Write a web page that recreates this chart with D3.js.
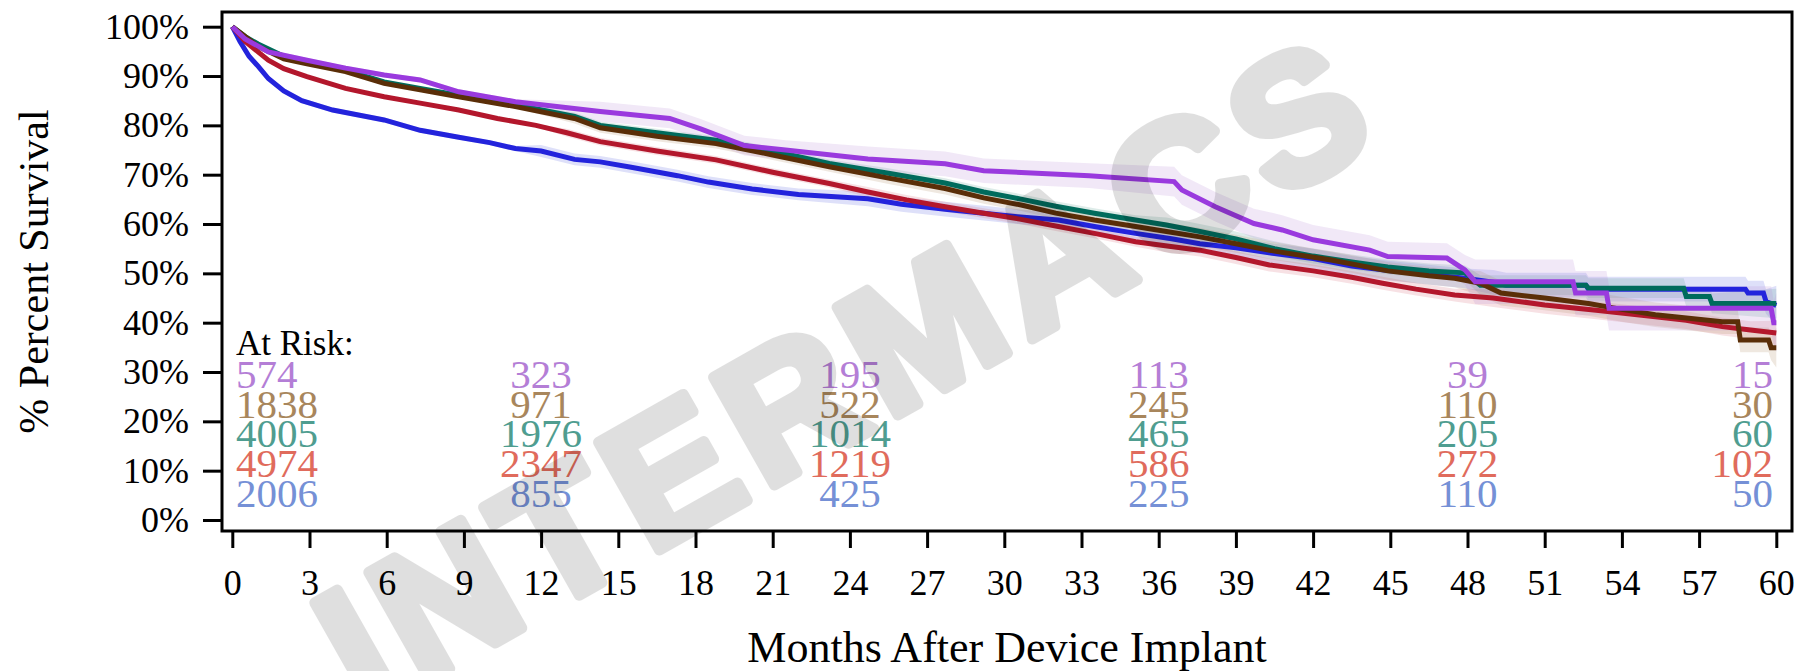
<!DOCTYPE html>
<meta charset="utf-8">
<head>
    <title>Percent Survival by Months After Device Implant</title>
</head>

<style>
    body { margin: 0; background: #fff; }
    svg text { font-family: "Liberation Serif", "Times New Roman", serif; }
    .axis path { display: none; }
    .axis line { stroke: #000; stroke-width: 3px; }
    .axis text { font-size: 36px; fill: #000; }
    .frame { fill: none; stroke: #000; stroke-width: 3px; }
</style>

<script src="https://d3js.org/d3.v7.min.js"></script>

<div id="my_viz"></div>

<script>

    // survival curves (months, % surviving)
    var purpleT = [0, 0.5, 1.4, 2.9, 4.4, 5.9, 7.3, 8.8, 11, 14.3, 17, 18.2, 19.9, 21.5, 24.7, 27.7, 29.2, 33.3, 36.6, 36.9, 38.2, 39.7, 40.8, 42, 44.2, 44.9, 47.2, 47.9, 48.3, 52.1, 52.2, 53.4, 53.5, 59.8, 59.9, 60];
    var purpleS = [100, 97.5, 94.9, 93.2, 91.6, 90.2, 89.2, 86.8, 84.8, 82.8, 81.4, 79.3, 75.9, 75, 73.2, 72.2, 70.8, 69.8, 68.6, 66.9, 63.5, 60.1, 58.8, 56.8, 54.7, 53.4, 53.1, 50.7, 48.3, 48.3, 46, 46, 42.9, 42.9, 40, 40];

    var brownT = [0, 0.5, 1, 2, 2.9, 4.4, 5.9, 7.3, 8.8, 11, 13.3, 14.3, 16.5, 18.8, 21, 23.2, 25.5, 27.7, 29.2, 30.7, 32, 33.5, 35.1, 36.3, 37.6, 39, 40.5, 42.7, 44.9, 46.5, 47.5, 48.5, 49.3, 51, 52.7, 54, 55.3, 57.9, 58.5, 58.6, 59.7, 59.8, 60];
    var brownS = [100, 98, 96, 93.5, 92.5, 90.9, 88.5, 87.2, 85.8, 83.8, 81.4, 79.5, 77.8, 76.3, 74, 71.6, 69.3, 67.2, 65.3, 63.8, 62.2, 60.8, 59.5, 58.5, 57.4, 56, 54.5, 52.7, 50.5, 49.5, 49, 48, 46, 45, 43.9, 42.7, 41.6, 40.2, 40.2, 36.5, 36.5, 34.9, 34.9];

    var tealT = [0, 0.5, 1, 2, 2.9, 4.4, 5.9, 7.3, 8.8, 11, 13.3, 14.3, 16.5, 18.8, 21, 23.2, 25.5, 27.7, 29.2, 30.7, 32, 33.5, 35.1, 36.3, 37.6, 39, 40.5, 42, 43.5, 44.9, 46.5, 47.9, 48.5, 52.6, 52.7, 56.4, 56.5, 57.4, 57.5, 60];
    var tealS = [100, 98, 96.5, 94, 92.8, 91.2, 88.8, 87.5, 86.1, 84.2, 81.8, 80, 78.5, 77, 74.8, 72.3, 70.3, 68.3, 66.5, 65, 63.6, 62.2, 60.8, 59.8, 58.5, 57, 55, 53.5, 52.3, 51.3, 50.5, 50.1, 47.6, 47.6, 47, 47, 45.3, 45.3, 43.9, 43.9];

    var redT = [0, 0.5, 1.4, 2, 2.9, 4.4, 5.9, 7.3, 8.8, 10.3, 11.8, 13, 14.3, 16.5, 18.8, 21, 23.2, 24.7, 26.2, 27.7, 29.2, 30.6, 32.1, 33.6, 35.1, 36.4, 37.6, 39, 40.3, 42, 43.5, 44.7, 46, 47.5, 49, 51, 53, 55.3, 56.5, 57.9, 59, 60];
    var redS = [100, 97, 93.2, 91.5, 89.9, 87.5, 85.8, 84.5, 83.1, 81.4, 80, 78.5, 76.7, 74.8, 73, 70.5, 68.2, 66.5, 64.9, 63.5, 62.2, 61, 59.5, 58, 56.4, 55.5, 54.7, 53.2, 51.7, 50.5, 49.2, 48, 46.8, 45.6, 45, 43.6, 42.5, 41.2, 40.5, 39.2, 38.5, 37.9];

    var blueT = [0, 0.3, 0.65, 1, 1.4, 2, 2.7, 3.9, 5, 5.9, 7.3, 8.8, 10, 11, 12, 13.3, 14.3, 15.5, 17.3, 18.5, 20.2, 22, 24.7, 26, 27.7, 29.2, 30.5, 32.1, 33.5, 35.1, 36.5, 37.6, 39, 40.5, 42, 43.5, 45, 46, 47.9, 49, 49.5, 52.6, 52.7, 58.8, 58.9, 59.5, 59.6, 60];
    var blueS = [100, 97, 94, 92, 89.5, 87, 85, 83.1, 82, 81.1, 79, 77.6, 76.5, 75.3, 74.8, 73.1, 72.6, 71.5, 69.8, 68.5, 67.1, 66, 65.1, 64, 63, 62.2, 61.5, 60.8, 59.5, 58.1, 57, 56, 55.2, 54, 53, 51.5, 50.5, 50, 49, 48.2, 47.6, 47.6, 46.8, 46.8, 46, 46, 44.3, 43.5];

    // half width of the shaded confidence band, from these months on
    var bandMonths = [0, 12, 24, 36, 48, 60];
    var purpleBand = [0.5, 2, 2.5, 3, 4.5, 6];
    var brownBand = [0.3, 1, 1.2, 1.8, 2.5, 4];
    var tealBand = [0.3, 0.8, 1, 1.5, 2, 3];
    var redBand = [0.3, 0.8, 1, 1.3, 1.8, 2.5];
    var blueBand = [0.5, 1.2, 1.5, 2, 2.5, 4];

    // numbers at risk
    var riskMonths = [0, 12, 24, 36, 48, 60];
    var purpleRisk = [574, 323, 195, 113, 39, 15];
    var brownRisk = [1838, 971, 522, 245, 110, 30];
    var tealRisk = [4005, 1976, 1014, 465, 205, 60];
    var redRisk = [4974, 2347, 1219, 586, 272, 102];
    var blueRisk = [2006, 855, 425, 225, 110, 50];

    var xTicks = d3.range(0, 61, 3);
    var yTicks = d3.range(0, 101, 10);

    // drawing order: first one is at the bottom
    var series = [
        { t: blueT, s: blueS, band: blueBand, line: "#2323dc", fill: "#5a66e0" },
        { t: redT, s: redS, band: redBand, line: "#b3172c", fill: "#d86a78" },
        { t: tealT, s: tealS, band: tealBand, line: "#006b5c", fill: "#5a9e92" },
        { t: brownT, s: brownS, band: brownBand, line: "#5a2e08", fill: "#b08e66" },
        { t: purpleT, s: purpleS, band: purpleBand, line: "#9a3ade", fill: "#b88ad8" }
    ];

    // rows of the at risk table, top to bottom
    var riskRows = [
        { n: purpleRisk, color: "#b47ed6" },
        { n: brownRisk, color: "#a8865c" },
        { n: tealRisk, color: "#4f9d90" },
        { n: redRisk, color: "#e06b5c" },
        { n: blueRisk, color: "#7590d6" }
    ];

    var W = 1797, H = 671;
    var frame = { left: 222, right: 1792, top: 12, bottom: 531 };

    var svg = d3.select("#my_viz")
        .append("svg")
        .attr("width", W)
        .attr("height", H);

    svg.append("rect").attr("width", W).attr("height", H).attr("fill", "#fff");

    var x = d3.scaleLinear().domain([0, 60]).range([232.3, 1776.3]);
    var y = d3.scaleLinear().domain([0, 100]).range([520, 26.7]);

    svg.append("clipPath").attr("id", "plotclip")
        .append("rect")
        .attr("x", frame.left).attr("y", frame.top)
        .attr("width", frame.right - frame.left)
        .attr("height", frame.bottom - frame.top);

    var plot = svg.append("g").attr("clip-path", "url(#plotclip)");

    function bandAt(sr, t) {
        var i = d3.bisectRight(bandMonths, t) - 1;
        return sr.band[Math.max(0, i)];
    }

    var area = d3.area()
        .x(function (d) { return x(d.t); })
        .y0(function (d) { return y(Math.max(0, d.s - d.h)); })
        .y1(function (d) { return y(Math.min(100, d.s + d.h)); });

    var line = d3.line()
        .x(function (d) { return x(d.t); })
        .y(function (d) { return y(d.s); });

    series.forEach(function (sr) {
        sr.pts = sr.t.map(function (t, i) {
            return { t: t, s: sr.s[i], h: bandAt(sr, t) };
        });
    });

    // confidence bands
    plot.selectAll(".band")
        .data(series)
        .enter().append("path")
        .attr("class", "band")
        .attr("d", function (d) { return area(d.pts); })
        .attr("fill", function (d) { return d.fill; })
        .attr("opacity", 0.2);

    // survival lines
    plot.selectAll(".curve")
        .data(series)
        .enter().append("path")
        .attr("class", "curve")
        .attr("d", function (d) { return line(d.pts); })
        .attr("fill", "none")
        .attr("stroke", function (d) { return d.line; })
        .attr("stroke-width", 5)
        .attr("stroke-linejoin", "miter");

    // at risk table
    svg.append("text")
        .attr("x", 236)
        .attr("y", 355)
        .attr("font-size", "35px")
        .attr("fill", "#000")
        .text("At Risk:");

    riskRows.forEach(function (row, r) {
        svg.append("g").selectAll("text")
            .data(row.n)
            .enter().append("text")
            .attr("x", function (d, i) {
                var m = riskMonths[i];
                return m === 0 ? 236 : (m === 60 ? 1773 : x(m));
            })
            .attr("y", 388 + r * 29.7)
            .attr("text-anchor", function (d, i) {
                var m = riskMonths[i];
                return m === 0 ? "start" : (m === 60 ? "end" : "middle");
            })
            .attr("font-size", "41px")
            .attr("fill", row.color)
            .text(function (d) { return d; });
    });

    // axes
    svg.append("g")
        .attr("class", "axis")
        .attr("transform", "translate(" + frame.left + ",0)")
        .call(d3.axisLeft(y).tickValues(yTicks).tickSize(19).tickPadding(14)
            .tickFormat(function (d) { return d + "%"; }));

    svg.append("g")
        .attr("class", "axis")
        .attr("transform", "translate(0," + frame.bottom + ")")
        .call(d3.axisBottom(x).tickValues(xTicks).tickSize(17).tickPadding(21));

    svg.append("rect")
        .attr("class", "frame")
        .attr("x", frame.left).attr("y", frame.top)
        .attr("width", frame.right - frame.left)
        .attr("height", frame.bottom - frame.top);

    // axis titles
    svg.append("text")
        .attr("x", (frame.left + frame.right) / 2)
        .attr("y", 662)
        .attr("text-anchor", "middle")
        .attr("font-size", "44px")
        .attr("fill", "#000")
        .text("Months After Device Implant");

    svg.append("text")
        .attr("transform", "translate(48," + (frame.top + frame.bottom) / 2 + ") rotate(-90)")
        .attr("text-anchor", "middle")
        .attr("font-size", "42px")
        .attr("fill", "#000")
        .text("% Percent Survival");

    // watermark, a heavy rounded stroke on top of everything
    svg.append("text")
        .attr("transform", "translate(846,370) rotate(-29.5)")
        .attr("text-anchor", "middle")
        .attr("dy", "0.36em")
        .style("font-family", "'Liberation Sans', Arial, sans-serif")
        .style("font-weight", "bold")
        .style("font-size", "180px")
        .style("letter-spacing", "12px")
        .attr("fill", "#000")
        .attr("stroke", "#000")
        .attr("stroke-width", 11)
        .attr("stroke-linejoin", "round")
        .attr("opacity", 0.12)
        .text("INTERMACS");

</script>
